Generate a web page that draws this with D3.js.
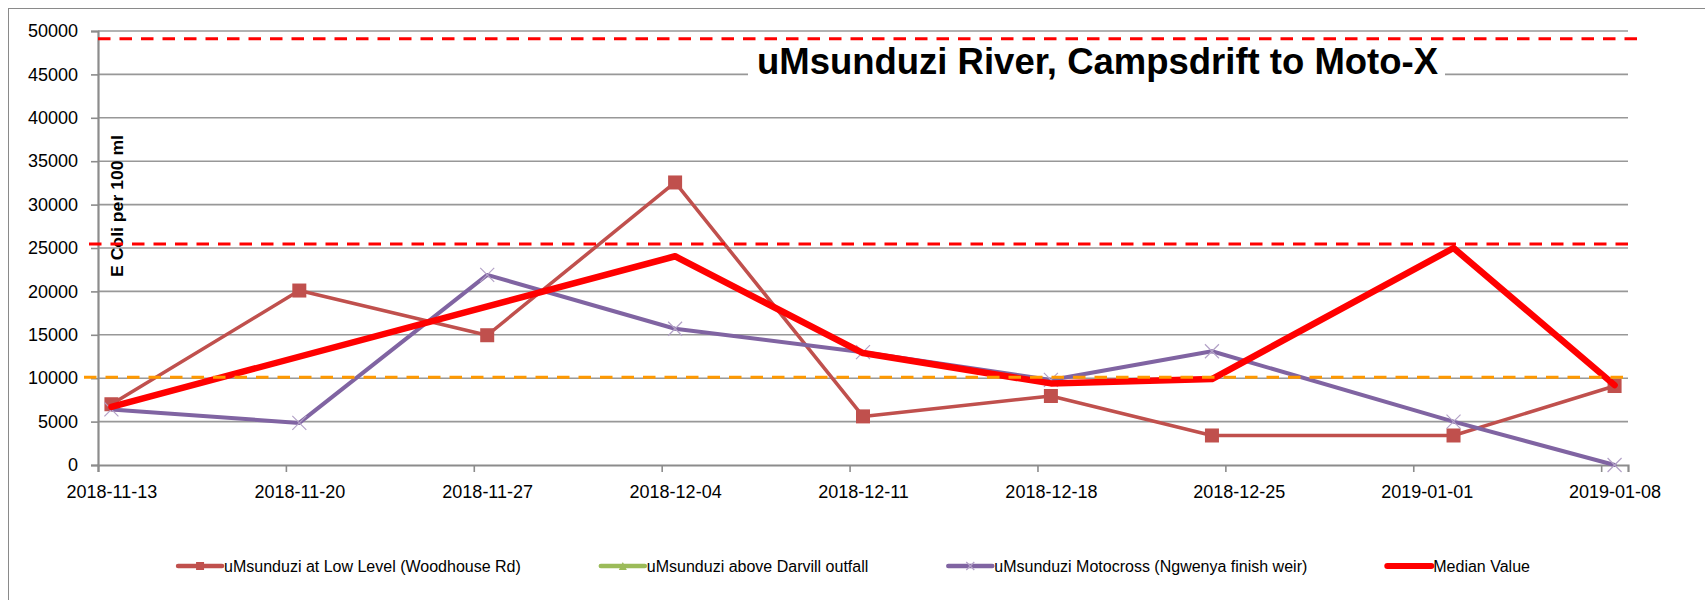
<!DOCTYPE html>
<html>
<head>
<meta charset="utf-8">
<script src="https://cdn.jsdelivr.net/npm/d3@7"></script>
<style>
  body { margin: 0; background: #fff; }
  svg { display: block; font-family: "Liberation Sans", Arial, sans-serif; }
</style>
</head>
<body>
<svg></svg>
<script>
var svgWidth = 1705;
var svgHeight = 600;

// sample dates (points sit in the middle of the day slot, like Excel date axis)
var dates = ['2018-11-13', '2018-11-20', '2018-11-27', '2018-12-04', '2018-12-11',
             '2018-12-18', '2018-12-24', '2019-01-02', '2019-01-08'];
var tickDates = ['2018-11-13', '2018-11-20', '2018-11-27', '2018-12-04', '2018-12-11',
                 '2018-12-18', '2018-12-25', '2019-01-01', '2019-01-08'];
var yTicks = [0, 5000, 10000, 15000, 20000, 25000, 30000, 35000, 40000, 45000, 50000];

var lowLevel  = [7000, 20100, 14950, 32550, 5600, 7950, 3400, 3400, 9100];
var darvill   = [null, null, null, null, null, null, null, null, null];
var motocross = [6400, 4850, 21900, 15700, 13000, 9800, 13100, 5000, 0];
var median    = [6700, null, null, 24050, 12900, 9400, 9900, 25000, 9200];

var seriesNames = ['uMsunduzi at Low Level (Woodhouse Rd)', 'uMsunduzi above Darvill outfall',
                   'uMsunduzi Motocross (Ngwenya finish weir)', 'Median Value'];

// guideline levels: red limits and orange target
var redLimits = [49100, 25450];
var orangeLimit = [10100];

var chartTitle = 'uMsunduzi River, Campsdrift to Moto-X';
var yTitle = 'E Coli per 100 ml';

var svg = d3.select('svg')
            .attr('width', svgWidth)
            .attr('height', svgHeight);

var plotLeft = 98, plotRight = 1628, plotTop = 31, plotBottom = 465;
var parse = d => new Date(d + 'T00:00:00Z');
var halfDay = 12 * 3600 * 1000;

var x = d3.scaleUtc()
          .domain([parse('2018-11-13'), parse('2019-01-09')])
          .range([plotLeft, plotRight]);
var y = d3.scaleLinear()
          .domain([0, 50000])
          .range([plotBottom, plotTop]);

/* outer chart frame (runs past the page edge, as in the source) */
svg.append('rect')
   .attr('x', 8.5).attr('y', 8.5)
   .attr('width', 1760).attr('height', 640)
   .style('fill', 'none')
   .style('stroke', '#8a8a8a')
   .style('stroke-width', 1);

/* gridlines */
svg.selectAll('line.grid')
   .data(yTicks.filter(d => d > 0))
   .enter()
   .append('line')
   .attr('class', 'grid')
   .attr('x1', plotLeft).attr('x2', plotRight)
   .attr('y1', d => y(d)).attr('y2', d => y(d))
   .style('stroke', '#989898')
   .style('stroke-width', 1.6);

/* y axis */
var yAxis = svg.append('g')
   .attr('transform', `translate(${plotLeft},0)`)
   .call(d3.axisLeft(y).tickValues(yTicks).tickSize(7).tickPadding(13).tickFormat(d3.format('d')));
yAxis.select('.domain').style('stroke', '#8c8c8c').style('stroke-width', 2.2);
yAxis.selectAll('.tick line').style('stroke', '#8c8c8c').style('stroke-width', 1.6);
yAxis.selectAll('text').style('font-size', '18px').style('fill', '#000');

/* x axis */
var xAxis = svg.append('g')
   .attr('transform', `translate(0,${plotBottom})`)
   .call(d3.axisBottom(x).tickValues(tickDates.map(parse)).tickSize(7).tickPadding(13)
           .tickFormat(d3.utcFormat('%Y-%m-%d')));
xAxis.select('.domain').style('stroke', '#8c8c8c').style('stroke-width', 2.2);
xAxis.selectAll('.tick line').style('stroke', '#8c8c8c').style('stroke-width', 1.6);
xAxis.selectAll('text')
     .attr('x', x(parse('2018-11-13').getTime() + halfDay) - plotLeft)
     .style('font-size', '18px').style('fill', '#000');

/* y axis title */
svg.append('text')
   .attr('transform', 'translate(123,206) rotate(-90)')
   .attr('text-anchor', 'middle')
   .attr('textLength', 142)
   .attr('lengthAdjust', 'spacingAndGlyphs')
   .style('font-size', '17px')
   .style('font-weight', 'bold')
   .text(yTitle);

/* series lines */
function pointsOf(values){
    var arr = [];
    values.forEach((v, i) => {
        if(v !== null) arr.push({ date: parse(dates[i]).getTime() + halfDay, value: v });
    });
    return arr;
}

var line = d3.line().x(d => x(d.date)).y(d => y(d.value));

var series = [
    { values: lowLevel,  color: '#C0504D', width: 3.5, marker: 'square' },
    { values: darvill,   color: '#9BBB59', width: 3.5, marker: 'triangle' },
    { values: motocross, color: '#8064A2', width: 4,   marker: 'cross' },
    { values: median,    color: '#FF0000', width: 6.5, marker: 'none' }
];

function drawMarker(g, type, color, cx, cy, s){
    if(type === 'square'){
        g.append('rect')
         .attr('x', cx - s / 2).attr('y', cy - s / 2)
         .attr('width', s).attr('height', s)
         .style('fill', color);
    } else if(type === 'triangle'){
        g.append('path')
         .attr('d', `M${cx},${cy - s / 2}L${cx + s / 2},${cy + s / 2}L${cx - s / 2},${cy + s / 2}Z`)
         .style('fill', color);
    } else if(type === 'cross'){
        g.append('path')
         .attr('d', `M${cx - s / 2},${cy - s / 2}L${cx + s / 2},${cy + s / 2}M${cx - s / 2},${cy + s / 2}L${cx + s / 2},${cy - s / 2}`)
         .style('stroke', '#B3A2C7')
         .style('stroke-width', 1.2)
         .style('fill', 'none');
    }
}

series.forEach(s => {
    var pts = pointsOf(s.values);
    if(pts.length == 0) return;
    svg.append('path')
       .datum(pts)
       .attr('d', line)
       .style('fill', 'none')
       .style('stroke', s.color)
       .style('stroke-width', s.width)
       .style('stroke-linejoin', 'round')
       .style('stroke-linecap', 'round');
    var mg = svg.append('g');
    pts.forEach(p => drawMarker(mg, s.marker, s.color, x(p.date), y(p.value), 14));
});

/* title with white box */
svg.append('rect')
   .attr('x', 748).attr('y', 42)
   .attr('width', 697).attr('height', 40)
   .style('fill', '#fff');
svg.append('text')
   .attr('x', 757).attr('y', 74)
   .attr('textLength', 681)
   .attr('lengthAdjust', 'spacingAndGlyphs')
   .style('font-size', '36px')
   .style('font-weight', 'bold')
   .text(chartTitle);

/* dashed guide lines */
svg.selectAll('line.red-limit')
   .data(redLimits)
   .enter()
   .append('line')
   .attr('class', 'red-limit')
   .attr('x1', (d, i) => i === 0 ? plotLeft : plotLeft - 9)
   .attr('x2', (d, i) => i === 0 ? plotRight + 13 : plotRight + 4)
   .attr('y1', d => y(d)).attr('y2', d => y(d))
   .style('stroke', '#FF0000')
   .style('stroke-width', 3)
   .style('stroke-dasharray', '12.5,9');

svg.selectAll('line.orange-limit')
   .data(orangeLimit)
   .enter()
   .append('line')
   .attr('class', 'orange-limit')
   .attr('x1', plotLeft - 14)
   .attr('x2', plotRight - 2)
   .attr('y1', d => y(d)).attr('y2', d => y(d))
   .style('stroke', '#FF9900')
   .style('stroke-width', 3)
   .style('stroke-dasharray', '12.5,9');

/* legend */
var legend = svg.append('g');
var cursor = 0;
seriesNames.forEach((name, i) => {
    var g = legend.append('g');
    var s = series[i];
    g.append('line')
     .attr('x1', 0).attr('x2', 44)
     .attr('y1', 0).attr('y2', 0)
     .style('stroke', s.color)
     .style('stroke-width', s.marker === 'none' ? 6 : 4.5)
     .style('stroke-linecap', 'round');
    drawMarker(g, s.marker, s.color, 22, 0, 8);
    var t = g.append('text')
     .attr('x', 46).attr('y', 0)
     .attr('dy', '0.35em')
     .style('font-size', '16px')
     .text(name);
    var w = 46 + t.node().getComputedTextLength();
    g.attr('transform', `translate(${cursor},566)`);
    cursor += w + 80;
});
var legendWidth = cursor - 80;
legend.attr('transform', `translate(${854 - legendWidth / 2},0)`);
</script>
</body>
</html>
